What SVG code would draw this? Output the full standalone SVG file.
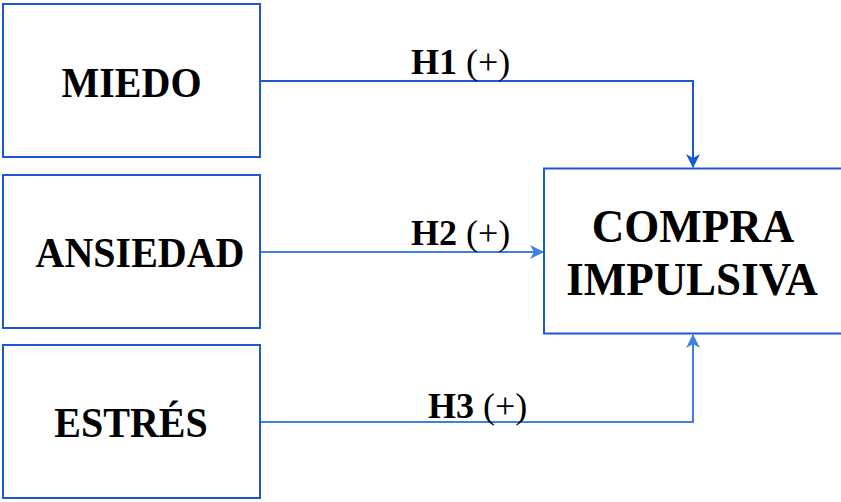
<svg xmlns="http://www.w3.org/2000/svg" width="841" height="502" viewBox="0 0 841 502">
  <style>
    .box { fill: #ffffff; stroke: #1c58cf; stroke-width: 2; }
    .lbl { font-family: "Liberation Serif", "Times New Roman", serif; font-weight: bold; fill: #000000; text-anchor: middle; }
    .hyp { font-family: "Liberation Serif", "Times New Roman", serif; font-size: 36px; fill: #000000; }
    .hyp .b { font-weight: bold; }
    .edge { fill: none; stroke-width: 2; }
    .dark { stroke: #1c58cf; }
    .light { stroke: #3f7fe6; }
  </style>
  <defs>
    <marker id="arrDark" viewBox="0 0 14 14" refX="13" refY="7" markerWidth="14" markerHeight="14" markerUnits="userSpaceOnUse" orient="auto">
      <path d="M0,0 L14,7 L0,14 L4,7 Z" fill="#1c58cf"/>
    </marker>
    <marker id="arrLight" viewBox="0 0 14 14" refX="13" refY="7" markerWidth="14" markerHeight="14" markerUnits="userSpaceOnUse" orient="auto">
      <path d="M0,0 L14,7 L0,14 L4,7 Z" fill="#3f7fe6"/>
    </marker>
  </defs>

  <rect width="841" height="502" fill="#ffffff"/>

  <!-- connectors with their hypothesis labels -->
  <g id="connectors">
    <path class="edge dark" d="M260,81 H693 V167" marker-end="url(#arrDark)"/>
    <path class="edge light" d="M260,252 H543" marker-end="url(#arrLight)"/>
    <path class="edge light" d="M260,422 H693 V335" marker-end="url(#arrLight)"/>
    <text class="hyp" x="411" y="74"><tspan class="b">H1</tspan> (+)</text>
    <text class="hyp" x="411" y="245"><tspan class="b">H2</tspan> (+)</text>
    <text class="hyp" x="428" y="418"><tspan class="b">H3</tspan> (+)</text>
  </g>

  <!-- box labels are set slightly tall (vertical scale about the baseline) -->
  <g id="miedo">
    <rect class="box" x="3" y="4" width="257" height="153"/>
    <text class="lbl" transform="translate(131.5,97) scale(1,1.08)" font-size="40">MIEDO</text>
  </g>

  <g id="ansiedad">
    <rect class="box" x="3" y="175" width="257" height="153"/>
    <text class="lbl" transform="translate(140,267) scale(1,1.08)" font-size="40">ANSIEDAD</text>
  </g>

  <g id="estres">
    <rect class="box" x="3" y="345" width="257" height="153"/>
    <text class="lbl" transform="translate(131,437) scale(1,1.08)" font-size="40">ESTRÉS</text>
  </g>

  <g id="compra-impulsiva">
    <rect class="box" x="544" y="168.5" width="305" height="165"/>
    <text class="lbl" transform="translate(693,242) scale(1,1.05)" font-size="45">COMPRA</text>
    <text class="lbl" transform="translate(692,295) scale(1,1.05)" font-size="45">IMPULSIVA</text>
  </g>
</svg>
